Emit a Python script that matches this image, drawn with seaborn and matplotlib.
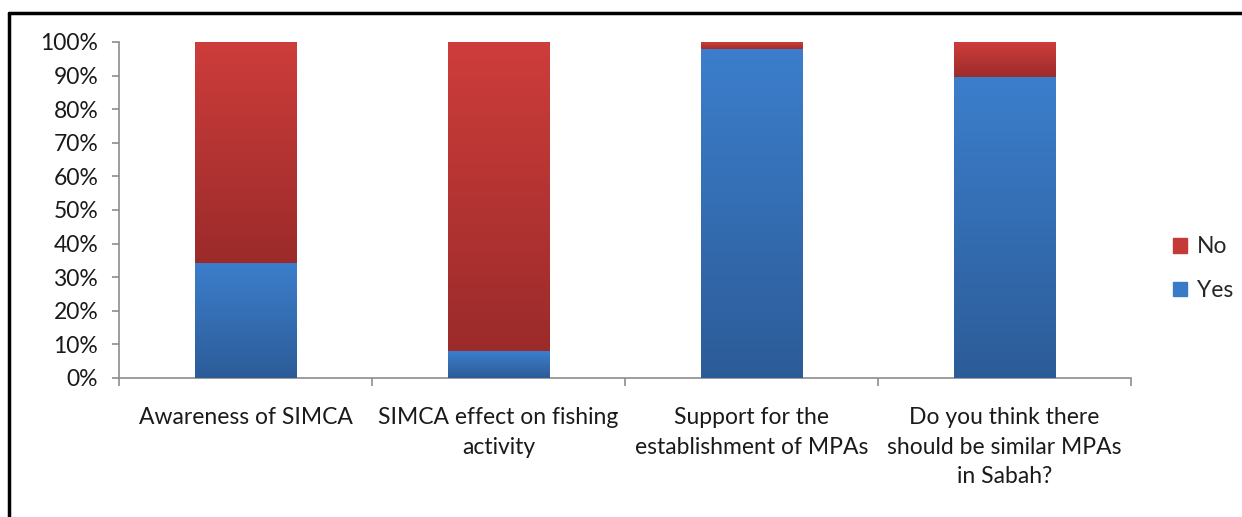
import numpy as np
import pandas as pd
import matplotlib
matplotlib.use('Agg')
import matplotlib.pyplot as plt
import seaborn as sns
from matplotlib.colors import LinearSegmentedColormap
from matplotlib.lines import Line2D
from matplotlib.patches import Patch

# Data (percent answering Yes; No is the rest)
questions = ['Awareness of SIMCA',
             'SIMCA effect on fishing\nactivity',
             'Support for the\nestablishment of MPAs',
             'Do you think there\nshould be similar MPAs\nin Sabah?']
yes_pct = [34.2, 7.8, 97.7, 89.4]
no_pct = [100 - v for v in yes_pct]

df = pd.DataFrame({'question': questions, 'Yes': yes_pct, 'No': no_pct})
df['total'] = df['Yes'] + df['No']

sns.set_style('white')
plt.rcParams['font.family'] = ['Lato', 'DejaVu Sans']

fig = plt.figure(figsize=(12.42, 5.17), dpi=100)
ax = fig.add_axes([0.0958, 0.2689, 0.9106 - 0.0958, 0.9188 - 0.2689])

# stacked bars: No on top of Yes
sns.barplot(data=df, x='question', y='total', color='#C43A38', width=0.4,
            ax=ax, zorder=2)
sns.barplot(data=df, x='question', y='Yes', color='#3A7BC8', width=0.4,
            ax=ax, zorder=3)

# gradient fill like the original
blue_cm = LinearSegmentedColormap.from_list('b', ['#2C5C98', '#3C7ECC'])
red_cm = LinearSegmentedColormap.from_list('r', ['#9B2B2A', '#CD3D3B'])
grad = np.linspace(0, 1, 256).reshape(-1, 1)
n = len(df)
for i, p in enumerate(ax.patches):
    x0 = p.get_x()
    x1 = x0 + p.get_width()
    if i < n:
        y0, y1, cm = df['Yes'][i], df['total'][i], red_cm
    else:
        y0, y1, cm = 0, df['Yes'][i - n], blue_cm
    p.set_visible(False)
    ax.imshow(grad, extent=[x0, x1, y0, y1], origin='lower', cmap=cm,
              aspect='auto', zorder=4)

ax.set_xlim(-0.5, n - 0.5)
ax.set_ylim(0, 100)
ax.set_yticks(np.arange(0, 101, 10))
ax.set_yticklabels([f'{v}%' for v in range(0, 101, 10)])
ax.set_xticks(np.arange(n))
ax.set_xticklabels(questions, linespacing=1.5)
ax.set_xticks(np.arange(-0.5, n), minor=True)
ax.set_xlabel('')
ax.set_ylabel('')

for s in ['top', 'right']:
    ax.spines[s].set_visible(False)
for s in ['left', 'bottom']:
    ax.spines[s].set_color('#8C8C8C')
    ax.spines[s].set_linewidth(1.2)
ax.tick_params(axis='y', length=5, width=1.2, color='#8C8C8C', pad=10,
               labelsize=16.5, labelcolor='#1a1a1a', left=True)
ax.tick_params(axis='x', which='major', length=0, pad=21, labelsize=16.5,
               labelcolor='#1a1a1a')
ax.tick_params(axis='x', which='minor', length=6, width=1.2,
               color='#8C8C8C', bottom=True)

handles = [Patch(facecolor='#C43A38', edgecolor='#C43A38', label='No'),
           Patch(facecolor='#3A7BC8', edgecolor='#3A7BC8', label='Yes')]
fig.legend(handles=handles, loc='center left', bbox_to_anchor=(0.928, 0.48),
           frameon=False, fontsize=16.5, handlelength=0.6, handleheight=0.6,
           handletextpad=0.45, labelspacing=1.0)

# frame around chart (top and left edges visible)
fig.add_artist(Line2D([0.0072, 1.0], [0.9749, 0.9749], color='black', lw=2.5,
                      transform=fig.transFigure))
fig.add_artist(Line2D([0.0072, 0.0072], [0.0, 0.9749], color='black', lw=2.5,
                      transform=fig.transFigure))

fig.savefig('out.png', dpi=100)
